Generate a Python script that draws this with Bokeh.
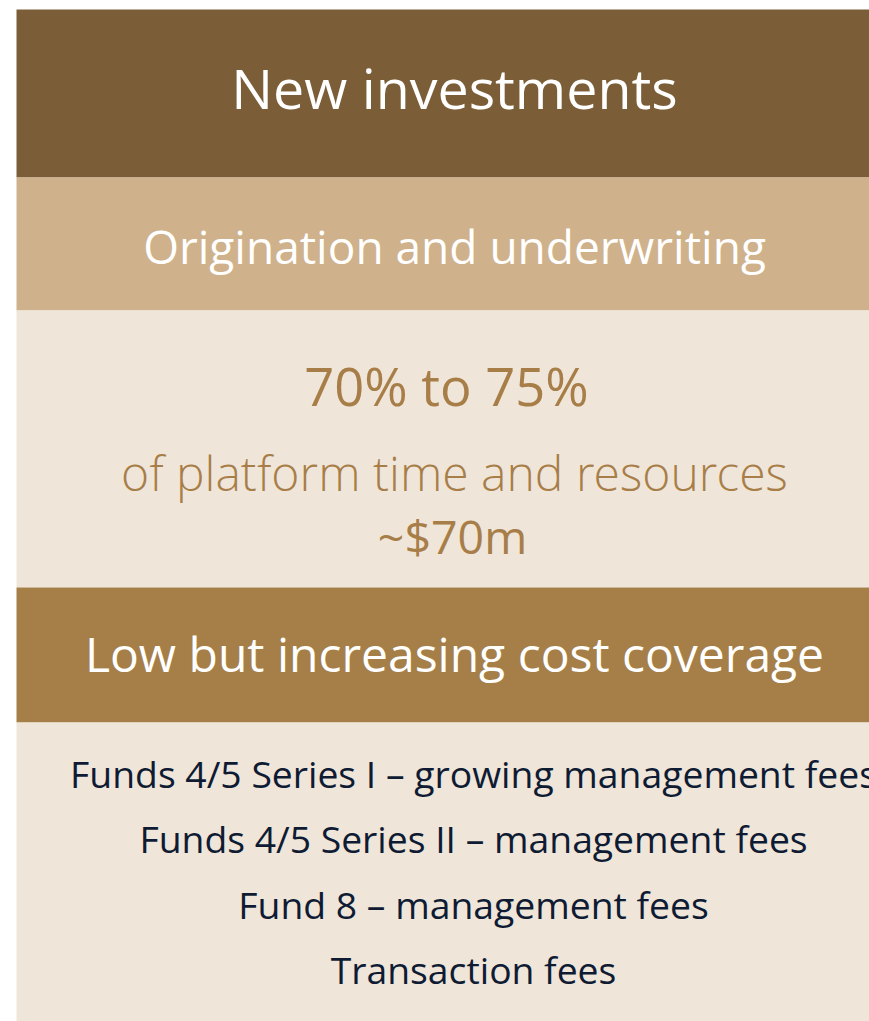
from bokeh.plotting import figure
from bokeh.models import Range1d
from bokeh.core.properties import value
from bokeh.embed import file_html
from bokeh.resources import INLINE

# ---- content (text of the infographic) ----
section_title = "New investments"
activity_title = "Origination and underwriting"
share_range = "70% to 75%"
share_label = "of platform time and resources"
cost_estimate = "~$70m"
coverage_title = "Low but increasing cost coverage"
fee_sources = [
    "Funds 4/5 Series I \u2013 growing management fees",
    "Funds 4/5 Series II \u2013 management fees",
    "Fund 8 \u2013 management fees",
    "Transaction fees",
]

# ---- layout / style ----
W, H = 869, 1021
LIGHT = "'Open Sans Light', 'Open Sans'"
REG = "Open Sans"
DARK_BROWN = "#7B5E37"
TAN = "#CFB28B"
CREAM = "#EFE5D9"
MID_BROWN = "#A67F48"
GOLD_TEXT = "#A87E48"
NAVY = "#0E1B33"

p = figure(width=W, height=H, output_backend="svg", toolbar_location=None,
           x_range=Range1d(0, W), y_range=Range1d(H, 0),
           min_border=0, outline_line_color=None, background_fill_color="white",
           border_fill_color="white")
p.axis.visible = False
p.grid.visible = False

bands_top = [9, 177, 310, 587, 722]
bands_bot = [177, 310, 587, 722, 1040]
bands_col = [DARK_BROWN, TAN, CREAM, MID_BROWN, CREAM]
p.quad(left=16, right=920, top=bands_top, bottom=bands_bot,
       fill_color=bands_col, line_color=None)

cx = 454
SHIFT = 0.42  # baseline correction (fraction of font size)
def txt(x, y, s, size, color, font):
    p.text(x=[x], y=[y - SHIFT * size], text=[s], text_align="center",
           text_baseline="alphabetic",
           text_font=value(font), text_font_size=f"{size}px", text_color=color)

txt(cx, 110, section_title, 55.5, "white", REG)
txt(cx, 265, activity_title, 46, "white", REG)
txt(cx - 8, 407, share_range, 52.5, GOLD_TEXT, REG)
txt(cx, 492, share_label, 48, GOLD_TEXT, LIGHT)
txt(cx - 2, 555, cost_estimate, 46.5, GOLD_TEXT, REG)
txt(cx, 673, coverage_title, 48, "white", REG)

fee_base = [789, 854, 920, 985]
for s, y in zip(fee_sources, fee_base):
    txt(473, y, s, 37.3, NAVY, REG)

open("out.html", "w").write(file_html(p, INLINE))
